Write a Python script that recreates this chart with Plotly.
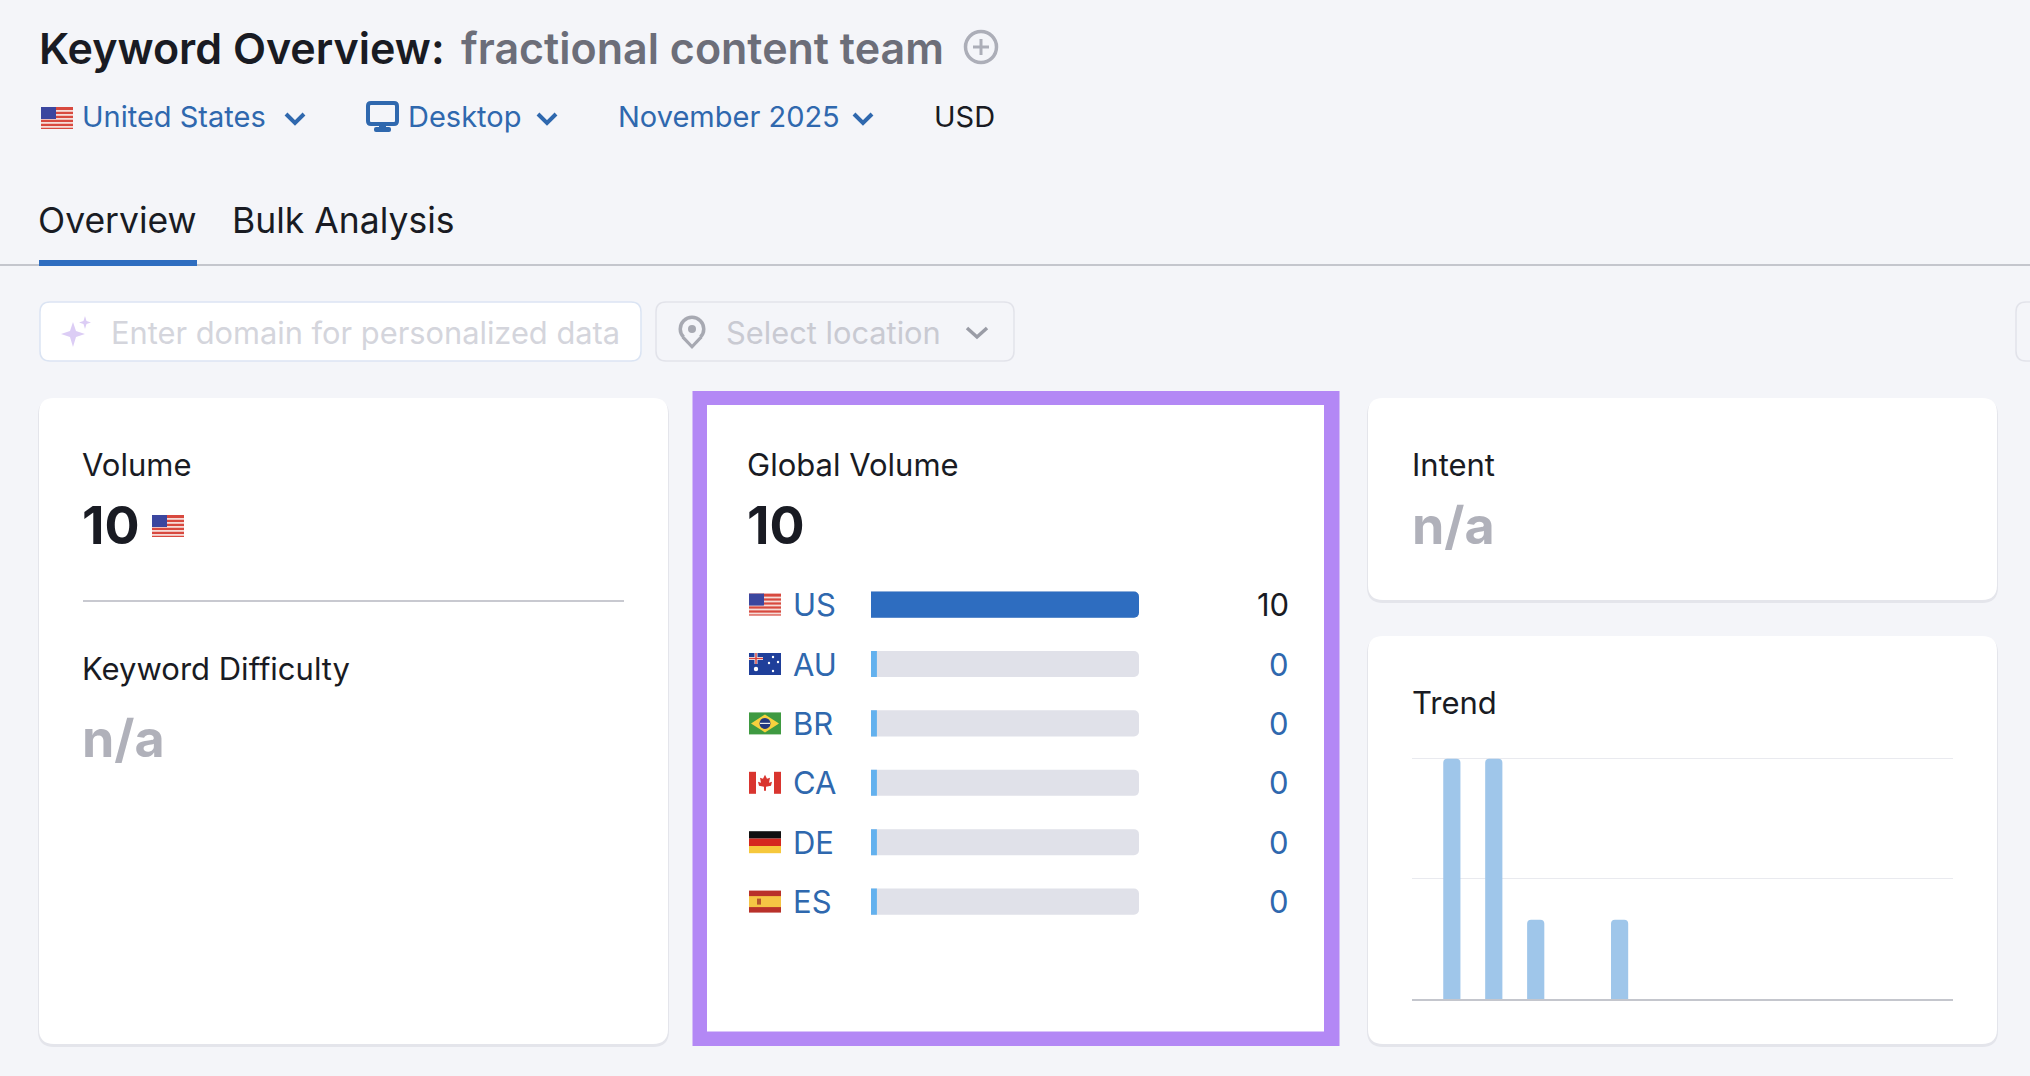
import plotly.graph_objects as go

# ----- Data -----
countries = ["US", "AU", "BR", "CA", "DE", "ES"]
volumes = [10, 0, 0, 0, 0, 0]
track_max = 10
zero_sliver = 0.22

trend_months = ["Dec 2024", "Jan 2025", "Feb 2025", "Mar 2025", "Apr 2025", "May 2025",
                "Jun 2025", "Jul 2025", "Aug 2025", "Sep 2025", "Oct 2025", "Nov 2025"]
trend_values = [100, 100, 33, 0, 33, 0, 0, 0, 0, 0, 0, 0]

W, H = 2030, 1076
BG = "#f4f5f9"
INK = "#191b23"
BLUE_TXT = "#2f68ae"
BLUE = "#2e6dc0"
SKY = "#63b1ee"
TRACK = "#e0e1e9"
PURPLE = "#b388f5"
NA = "#b0b1ba"
FONT = "Inter"


def X(p):
    return p / W


def Y(p):
    return 1 - p / H


def poly(points):
    return "M " + " L ".join(f"{X(a):.5f} {Y(b):.5f}" for a, b in points) + " Z"


def round_rect(x0, y0, x1, y1, r):
    return (f"M {X(x0 + r):.5f} {Y(y0):.5f} L {X(x1 - r):.5f} {Y(y0):.5f} "
            f"Q {X(x1):.5f} {Y(y0):.5f} {X(x1):.5f} {Y(y0 + r):.5f} "
            f"L {X(x1):.5f} {Y(y1 - r):.5f} Q {X(x1):.5f} {Y(y1):.5f} {X(x1 - r):.5f} {Y(y1):.5f} "
            f"L {X(x0 + r):.5f} {Y(y1):.5f} Q {X(x0):.5f} {Y(y1):.5f} {X(x0):.5f} {Y(y1 - r):.5f} "
            f"L {X(x0):.5f} {Y(y0 + r):.5f} Q {X(x0):.5f} {Y(y0):.5f} {X(x0 + r):.5f} {Y(y0):.5f} Z")


shapes = []


def add_path(path, fill=None, line=None, lw=0):
    shapes.append(dict(type="path", xref="paper", yref="paper", path=path, layer="below",
                       fillcolor=fill or "rgba(0,0,0,0)",
                       line=dict(color=line or "rgba(0,0,0,0)", width=lw)))


def add_rect(x0, y0, x1, y1, fill):
    shapes.append(dict(type="rect", xref="paper", yref="paper", layer="below",
                       x0=X(x0), x1=X(x1), y0=Y(y0), y1=Y(y1),
                       fillcolor=fill, line=dict(width=0)))


def add_circle(cx, cy, r, fill=None, line=None, lw=0):
    shapes.append(dict(type="circle", xref="paper", yref="paper", layer="below",
                       x0=X(cx - r), x1=X(cx + r), y0=Y(cy - r), y1=Y(cy + r),
                       fillcolor=fill or "rgba(0,0,0,0)",
                       line=dict(color=line or "rgba(0,0,0,0)", width=lw)))


def add_chevron(cx, cy, color, half=9, lw=4):
    shapes.append(dict(type="path", xref="paper", yref="paper", layer="below",
                       path=f"M {X(cx - half):.5f} {Y(cy - 4):.5f} L {X(cx):.5f} {Y(cy + 5):.5f} L {X(cx + half):.5f} {Y(cy - 4):.5f}",
                       line=dict(color=color, width=lw)))


def add_card(x0, y0, x1, y1):
    add_path(round_rect(x0 - 1, y0 + 1, x1 + 1, y1 + 3, 16), fill="rgba(30,35,60,0.07)")
    add_path(round_rect(x0, y0, x1, y1, 15), fill="#ffffff")


def add_flag(code, x, y):
    # x, y = top-left corner; every flag is 32 x 22
    w, h = 32, 22
    if code == "US":
        add_rect(x, y, x + w, y + h, "#d8493f")
        for i in range(1, 6):
            add_rect(x, y + i * h / 5.5 - 1.0, x + w, y + i * h / 5.5 + 0.8, "#f6dcd8")
        add_rect(x, y, x + 15, y + 12, "#3b469f")
    elif code == "AU":
        add_rect(x, y, x + w, y + h, "#1f3f9a")
        add_rect(x, y + 4, x + 14, y + 7, "#f2f2f6")
        add_rect(x + 5.5, y, x + 8.5, y + 11, "#f2f2f6")
        add_rect(x, y + 4.8, x + 14, y + 6.2, "#d8403a")
        add_rect(x + 6.3, y, x + 7.7, y + 11, "#d8403a")
        add_circle(x + 7, y + 16, 2.2, "#ffffff")
        for a, b in [(24, 4), (29, 9), (20, 10), (24, 18)]:
            add_circle(x + a, y + b, 1.2, "#ffffff")
    elif code == "BR":
        add_rect(x, y, x + w, y + h, "#3f9a41")
        add_path(poly([(x + 16, y + 2), (x + 30, y + 11), (x + 16, y + 20), (x + 2, y + 11)]), fill="#f7d13e")
        add_circle(x + 16, y + 11, 5.5, "#24397f")
        add_rect(x + 11, y + 10.4, x + 21, y + 11.6, "#eef0ee")
    elif code == "CA":
        add_rect(x, y, x + w, y + h, "#ffffff")
        add_rect(x, y, x + 7, y + h, "#d9352f")
        add_rect(x + w - 7, y, x + w, y + h, "#d9352f")
        add_path(poly([(x + 16, y + 3), (x + 18, y + 7), (x + 21, y + 6), (x + 20, y + 11), (x + 23, y + 10),
                       (x + 22, y + 14), (x + 17, y + 15), (x + 17, y + 19), (x + 15, y + 19), (x + 15, y + 15),
                       (x + 10, y + 14), (x + 9, y + 10), (x + 12, y + 11), (x + 11, y + 6), (x + 14, y + 7)]),
                 fill="#d9352f")
    elif code == "DE":
        add_rect(x, y, x + w, y + 7.4, "#101010")
        add_rect(x, y + 7.4, x + w, y + 14.8, "#d5281f")
        add_rect(x, y + 14.8, x + w, y + h, "#f6c83c")
    elif code == "ES":
        add_rect(x, y, x + w, y + h, "#b9312a")
        add_rect(x, y + 5.5, x + w, y + 16.5, "#f5c544")
        add_rect(x + 8, y + 8, x + 12, y + 14, "#b6552c")


annots = []


def add_text(text, x, y, size, color=INK, weight=400):
    # annotations carry about 2.6px of padding on the left
    annots.append(dict(text=text, x=X(x - 2.6), y=Y(y), xref="paper", yref="paper",
                       xanchor="left", yanchor="middle", showarrow=False,
                       font=dict(family=FONT, size=size, color=color, weight=weight)))


# ----- Page chrome -----
add_rect(0, 264, W, 266, "#c4c6cd")
add_rect(39, 260, 197, 266, BLUE)

add_path(round_rect(40, 302, 641, 361, 10), fill="#ffffff", line="#dbe4f3", lw=1.5)
add_path(round_rect(656, 302, 1014, 361, 10), fill=BG, line="#e2e3ea", lw=1.5)
add_path(round_rect(2016, 302, 2050, 361, 10), fill=BG, line="#e2e3ea", lw=1.5)

# sparkle in the domain box
add_path(poly([(73, 322), (76, 331), (85, 334), (76, 337), (73, 347), (70, 337), (61, 334), (70, 331)]), fill="#dccdf5")
add_path(poly([(85, 316), (86.5, 321), (91, 322.5), (86.5, 324), (85, 329), (83.5, 324), (79, 322.5), (83.5, 321)]), fill="#dccdf5")

# location pin
add_path(poly([(681.5, 338), (702.5, 338), (692, 349)]), fill="#a7a9b2")
add_circle(692, 329, 13.5, "#a7a9b2")
add_circle(692, 329, 10, BG)
add_path(poly([(684, 336), (700, 336), (692, 344.5)]), fill=BG)
add_circle(692, 329, 4, "#a7a9b2")
add_chevron(977, 332, "#9a9ca6", half=10, lw=3.5)

# plus icon next to the keyword
add_circle(981, 47, 15.5, None, "#acaeb8", 3.5)
add_rect(973, 45.5, 989, 48.5, "#acaeb8")
add_rect(979.5, 39, 982.5, 55, "#acaeb8")

add_flag("US", 41, 107)
add_chevron(295, 118, BLUE_TXT)
add_chevron(547, 118, BLUE_TXT)
add_chevron(863, 118, BLUE_TXT)

# monitor icon
add_path(round_rect(368, 103, 397, 124, 3), fill=None, line=BLUE_TXT, lw=4)
add_rect(379, 125, 386, 129, BLUE_TXT)
add_path(round_rect(374, 127, 391, 132, 2), fill=BLUE_TXT)

add_text("Keyword Overview:", 40, 48, 43, INK, 600)
add_text("fractional content team", 462, 48, 43, "#6c6e79", 600)
add_text("United States", 83, 117, 29, BLUE_TXT)
add_text("Desktop", 409, 117, 29, BLUE_TXT)
add_text("November 2025", 619, 117, 29, BLUE_TXT)
add_text("USD", 935, 117, 29, INK)
add_text("Overview", 39, 221, 35.5, INK)
add_text("Bulk Analysis", 233, 221, 35.5, INK)
add_text("Enter domain for personalized data", 112, 333, 30.8, "#d4d5dc")
add_text("Select location", 727, 332, 30.8, "#c9cad2")

# ----- Cards -----
add_card(39, 398, 668, 1044)
add_card(1368, 398, 1997, 600)
add_card(1368, 636, 1997, 1044)
add_rect(692.5, 391, 1339.5, 1046, PURPLE)
add_rect(707, 405, 1324, 1031.5, "#ffffff")

add_rect(83, 600, 624, 602, "#c8c9d0")
add_flag("US", 152, 515)
add_text("Volume", 83, 464, 31)
add_text("10", 83, 525, 52, INK, 700)
add_text("Keyword Difficulty", 83, 668, 31)
add_text("n/a", 83, 738, 52, NA, 700)
add_text("Global Volume", 748, 464, 31)
add_text("10", 748, 525, 52, INK, 700)
add_text("Intent", 1413, 464, 31)
add_text("n/a", 1413, 525, 52, NA, 700)
add_text("Trend", 1413, 702, 31)

# ----- Global volume bars -----
fig = go.Figure()
slivers = [zero_sliver if v == 0 else None for v in volumes]
filled = [v if v > 0 else None for v in volumes]

fig.add_trace(go.Bar(y=countries, x=[track_max] * len(countries), orientation="h",
                     marker=dict(color=TRACK, cornerradius=5, line=dict(width=0)),
                     xaxis="x", yaxis="y", hoverinfo="skip"))
fig.add_trace(go.Bar(y=countries, x=slivers, orientation="h",
                     marker=dict(color=SKY, line=dict(width=0)),
                     xaxis="x", yaxis="y", hoverinfo="skip"))
fig.add_trace(go.Bar(y=countries, x=filled, orientation="h",
                     marker=dict(color=BLUE, cornerradius=5, line=dict(width=0)),
                     xaxis="x", yaxis="y", hoverinfo="skip"))

row_h = 59.4
row_top = 604.6 - row_h / 2
for i, (code, v) in enumerate(zip(countries, volumes)):
    add_flag(code, 749, row_top + (i + 0.5) * row_h - 11)
    annots.append(dict(text=code, x=X(791), y=code, xref="paper", yref="y", xanchor="left", yanchor="middle",
                       showarrow=False, font=dict(family=FONT, size=31, color=BLUE_TXT)))
    annots.append(dict(text=str(v), x=X(1291), y=code, xref="paper", yref="y", xanchor="right", yanchor="middle",
                       showarrow=False, font=dict(family=FONT, size=31, color=INK if v > 0 else BLUE_TXT)))

# ----- Trend bars -----
fig.add_trace(go.Bar(x=trend_months, y=trend_values,
                     marker=dict(color="#9fc6ea", cornerradius=4, line=dict(width=0)),
                     width=0.41, xaxis="x2", yaxis="y2", hoverinfo="skip"))

fig.update_layout(
    width=W, height=H,
    margin=dict(l=0, r=0, t=0, b=0),
    paper_bgcolor=BG,
    plot_bgcolor="rgba(0,0,0,0)",
    showlegend=False,
    barmode="overlay",
    bargap=0.56,
    shapes=shapes,
    annotations=annots,
    xaxis=dict(domain=[X(871), X(1139)], range=[0, track_max], visible=False, fixedrange=True),
    yaxis=dict(domain=[Y(row_top + 6 * row_h), Y(row_top)], autorange="reversed", visible=False,
               type="category", fixedrange=True),
    xaxis2=dict(domain=[X(1412), X(1953)], anchor="y2", range=[-0.95, 11.95], type="category",
                showticklabels=False, ticks="", showgrid=False, showline=True, linecolor="#c4c6cd",
                linewidth=2, fixedrange=True),
    yaxis2=dict(domain=[Y(999), Y(756.4)], anchor="x2", range=[0, 101], dtick=50, showticklabels=False,
                ticks="", gridcolor="#e9eaef", gridwidth=1, zeroline=False, showline=False, fixedrange=True),
)

# the default page body has an 8px margin, drop it so the figure fills the window
fig.write_html("out.html", config=dict(displayModeBar=False),
               post_script="document.body.style.margin='0';document.body.style.overflow='hidden';")
